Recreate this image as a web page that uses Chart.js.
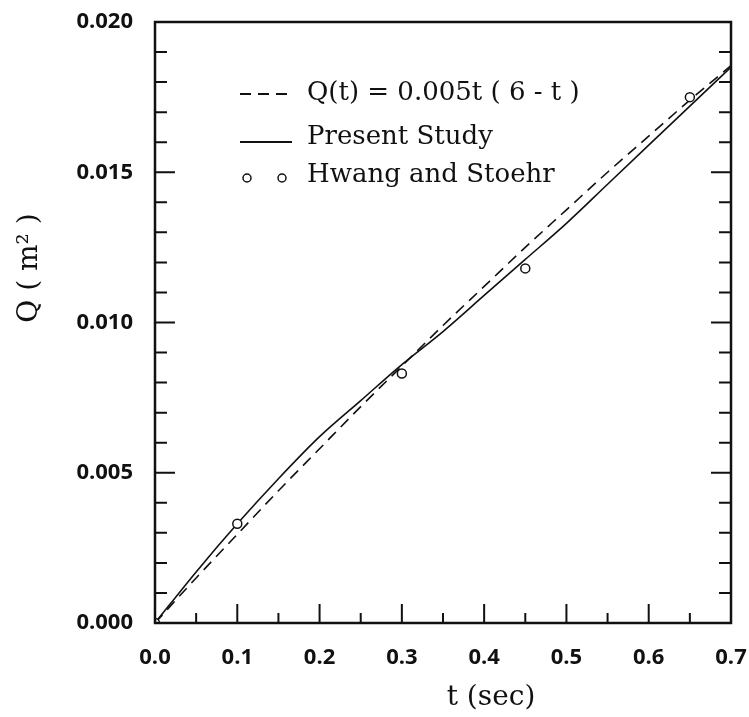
<!DOCTYPE html>
<html>
<head>
<meta charset="utf-8">
<script src="https://cdn.jsdelivr.net/npm/chart.js@4.4.1/dist/chart.umd.min.js"></script>
<style>
html, body { margin: 0; padding: 0; background: #fff; }
</style>
</head>
<body>
<canvas id="chart" width="749" height="717"></canvas>
<script>
// values
const tValues = [0, 0.05, 0.1, 0.15, 0.2, 0.25, 0.3, 0.35, 0.4, 0.45, 0.5, 0.55, 0.6, 0.65, 0.7];
const formulaQ = [0, 0.0015, 0.00295, 0.0044, 0.0058, 0.0072, 0.00855, 0.0099, 0.0112, 0.0125, 0.01375, 0.0150, 0.0162, 0.0174, 0.01855];
const presentQ = [0, 0.0017, 0.0033, 0.0048, 0.0062, 0.0074, 0.0086, 0.0097, 0.0109, 0.0121, 0.0133, 0.0146, 0.0159, 0.0172, 0.0185];
const hwangT = [0, 0.1, 0.3, 0.45, 0.65];
const hwangQ = [0, 0.0033, 0.0083, 0.0118, 0.0175];

const xMajor = [0, 0.1, 0.2, 0.3, 0.4, 0.5, 0.6, 0.7];
const xMinor = [0.05, 0.15, 0.25, 0.35, 0.45, 0.55, 0.65];
const yMajor = [0, 0.005, 0.010, 0.015, 0.020];
const yMinor = [0.001, 0.002, 0.003, 0.004, 0.006, 0.007, 0.008, 0.009,
                0.011, 0.012, 0.013, 0.014, 0.016, 0.017, 0.018, 0.019];

const legendLabels = ['Q(t) = 0.005t ( 6 - t )', 'Present Study', 'Hwang and Stoehr'];
const xTitle = 't (sec)';
const yTitle = 'Q ( m² )';

const serif = '"DejaVu Serif", "Liberation Serif", serif';
const tickFont = { family: '"Open Sans", "Liberation Sans", sans-serif', size: 22, weight: 'bold' };

const toXY = (xs, ys) => xs.map((x, i) => ({ x: x, y: ys[i] }));

// frame, inward ticks, titles, legend
const framePlugin = {
    id: 'framePlugin',
    afterDraw(chart) {
        const ctx = chart.ctx;
        const a = chart.chartArea;
        const xs = chart.scales.x;
        const ys = chart.scales.y;
        ctx.save();
        ctx.strokeStyle = '#111';
        ctx.lineWidth = 2.5;
        ctx.strokeRect(a.left, a.top, a.right - a.left, a.bottom - a.top);

        ctx.lineWidth = 2;
        ctx.beginPath();
        xMajor.forEach(v => {
            const px = xs.getPixelForValue(v);
            ctx.moveTo(px, a.bottom); ctx.lineTo(px, a.bottom - 19);
        });
        xMinor.forEach(v => {
            const px = xs.getPixelForValue(v);
            ctx.moveTo(px, a.bottom); ctx.lineTo(px, a.bottom - 10);
        });
        yMajor.forEach(v => {
            const py = ys.getPixelForValue(v);
            ctx.moveTo(a.left, py); ctx.lineTo(a.left + 20, py);
            ctx.moveTo(a.right, py); ctx.lineTo(a.right - 20, py);
        });
        yMinor.forEach(v => {
            const py = ys.getPixelForValue(v);
            ctx.moveTo(a.left, py); ctx.lineTo(a.left + 12, py);
            ctx.moveTo(a.right, py); ctx.lineTo(a.right - 12, py);
        });
        ctx.stroke();

        // axis titles
        ctx.fillStyle = '#111';
        ctx.font = '28px ' + serif;
        ctx.textAlign = 'center';
        ctx.textBaseline = 'middle';
        ctx.fillText(xTitle, 491, 698);
        ctx.save();
        ctx.translate(30, 268);
        ctx.rotate(-Math.PI / 2);
        ctx.fillText(yTitle, 0, 0);
        ctx.restore();

        // legend
        const rows = [93, 137, 175];
        ctx.font = '26px ' + serif;
        ctx.textAlign = 'left';
        legendLabels.forEach((txt, i) => ctx.fillText(txt, 307, rows[i]));
        ctx.lineWidth = 1.8;
        ctx.setLineDash([11, 7]);
        ctx.beginPath(); ctx.moveTo(240, rows[0] + 1); ctx.lineTo(292, rows[0] + 1); ctx.stroke();
        ctx.setLineDash([]);
        ctx.beginPath(); ctx.moveTo(240, rows[1] + 5); ctx.lineTo(292, rows[1] + 5); ctx.stroke();
        ctx.lineWidth = 1.5;
        [247, 282].forEach(cx => {
            ctx.beginPath(); ctx.arc(cx, rows[2] + 3, 4, 0, Math.PI * 2); ctx.stroke();
        });
        ctx.restore();
    }
};

new Chart(document.getElementById('chart'), {
    type: 'line',
    data: {
        datasets: [{
            label: legendLabels[2],
            type: 'scatter',
            data: toXY(hwangT, hwangQ),
            showLine: false,
            pointStyle: 'circle',
            pointRadius: 4.5,
            pointBorderWidth: 1.5,
            pointBorderColor: '#111',
            pointBackgroundColor: '#fff',
            order: 0
        }, {
            label: legendLabels[0],
            data: toXY(tValues, formulaQ),
            borderColor: '#111',
            borderWidth: 1.6,
            borderDash: [11, 7],
            pointRadius: 0,
            cubicInterpolationMode: 'monotone',
            fill: false,
            order: 1
        }, {
            label: legendLabels[1],
            data: toXY(tValues, presentQ),
            borderColor: '#111',
            borderWidth: 1.6,
            pointRadius: 0,
            cubicInterpolationMode: 'monotone',
            fill: false,
            order: 2
        }]
    },
    options: {
        responsive: false,
        animation: false,
        layout: { padding: { top: 22, right: 18, left: 0, bottom: 0 } },
        plugins: { legend: { display: false }, tooltip: { enabled: false } },
        scales: {
            x: {
                type: 'linear',
                min: 0,
                max: 0.7,
                afterFit: (scale) => {
                    scale.height = 94;
                    scale.paddingLeft = 0;
                    scale.paddingRight = 0;
                },
                afterBuildTicks: (scale) => { scale.ticks = xMajor.map(v => ({ value: v })); },
                grid: { display: false, drawTicks: false },
                border: { display: false },
                ticks: {
                    padding: 22,
                    color: '#111',
                    font: tickFont,
                    maxRotation: 0,
                    callback: (v) => v.toFixed(1)
                }
            },
            y: {
                type: 'linear',
                min: 0,
                max: 0.02,
                afterFit: (scale) => {
                    scale.width = 155;
                    scale.paddingTop = 0;
                    scale.paddingBottom = 0;
                },
                afterBuildTicks: (scale) => { scale.ticks = yMajor.map(v => ({ value: v })); },
                grid: { display: false, drawTicks: false },
                border: { display: false },
                ticks: {
                    padding: 22,
                    color: '#111',
                    font: tickFont,
                    callback: (v) => v.toFixed(3)
                }
            }
        }
    },
    plugins: [framePlugin]
});
</script>
</body>
</html>
